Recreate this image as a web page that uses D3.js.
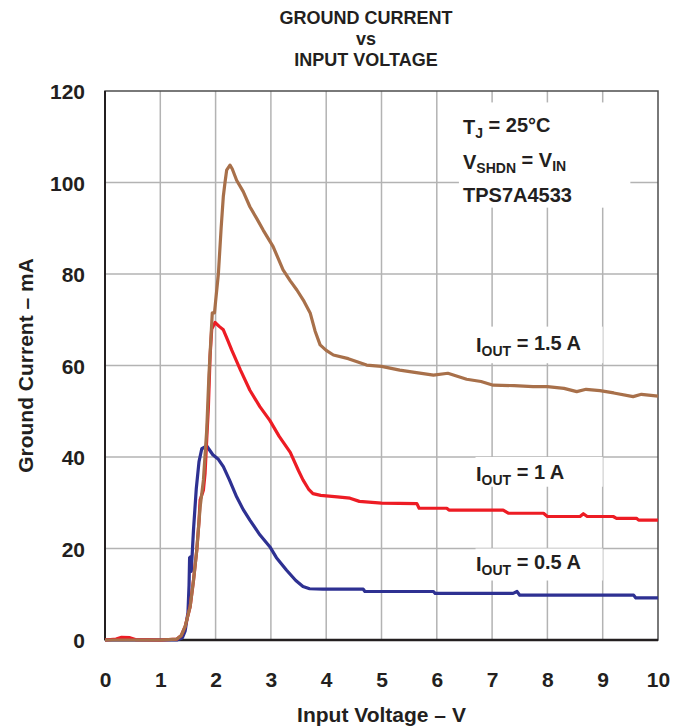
<!DOCTYPE html>
<html>
<head>
<meta charset="utf-8">
<script src="https://cdn.jsdelivr.net/npm/d3@7"></script>
<style>
	body { margin: 0; background: #fff; }
	text { font-family: "Liberation Sans Narrow", "Liberation Sans", Arial, sans-serif; font-weight: bold; fill: #231f20; }
</style>
</head>
<body>
<svg id="chart" width="689" height="726"></svg>
<script>
// tick values
const xTicks = [0, 1, 2, 3, 4, 5, 6, 7, 8, 9, 10];
const yTicks = [0, 20, 40, 60, 80, 100, 120];

// series: [input voltage V, ground current mA]
const iout05 = [[0,0],[0.5,0],[1,0],[1.3,0],[1.4,0.5],[1.45,2],[1.5,6],[1.52,12],[1.53,18],[1.55,18.2],[1.56,15],[1.6,24],[1.65,33],[1.7,39],[1.75,41.8],[1.84,42.4],[1.95,40.5],[2.05,39.5],[2.14,37.9],[2.25,35],[2.38,31.3],[2.5,28.5],[2.62,26.2],[2.8,23],[2.98,20.4],[3.1,18],[3.28,15.3],[3.45,13],[3.58,11.7],[3.7,11.2],[3.94,11.1],[4.3,11.1],[4.67,11.1],[4.7,10.6],[5.2,10.6],[5.94,10.6],[5.97,10.2],[6.6,10.2],[7.38,10.2],[7.45,10.6],[7.5,9.8],[8,9.8],[8.8,9.8],[9.56,9.8],[9.6,9.2],[10,9.2]];
const iout1 = [[0,0],[0.2,0.2],[0.3,0.6],[0.45,0.5],[0.55,0.1],[1,0],[1.3,0.2],[1.38,1],[1.45,3],[1.54,7.3],[1.6,13],[1.66,19.7],[1.7,26],[1.72,30.6],[1.76,32],[1.78,32.8],[1.81,36.5],[1.84,44],[1.87,51],[1.9,62],[1.93,68],[1.99,69.4],[2.07,68.5],[2.14,67.8],[2.22,65.5],[2.29,63.4],[2.45,59],[2.62,54.6],[2.8,51],[2.98,48],[3.15,44.5],[3.35,41],[3.5,37],[3.58,35],[3.68,33],[3.76,32],[3.9,31.6],[4.2,31.3],[4.43,31],[4.6,30.3],[5,29.9],[5.64,29.8],[5.68,28.8],[6.18,28.8],[6.22,28.4],[7.2,28.4],[7.3,27.7],[7.93,27.7],[8,27],[8.59,27],[8.65,27.6],[8.72,27],[9.19,27],[9.25,26.6],[9.61,26.6],[9.65,26.2],[10,26.2]];
const iout15 = [[0,0],[0.5,0],[1,0],[1.3,0.2],[1.38,1],[1.45,3],[1.54,7.3],[1.6,13],[1.66,19.7],[1.72,29],[1.78,35],[1.84,46],[1.88,58],[1.92,67],[1.94,71.5],[1.98,71.5],[2.0,74],[2.05,80],[2.1,90],[2.14,97],[2.17,100],[2.2,102.7],[2.26,103.8],[2.3,103],[2.38,100.5],[2.5,98],[2.62,94.7],[2.75,92],[2.86,89.6],[3.04,86],[3.22,80.9],[3.35,78.5],[3.47,76.5],[3.6,74],[3.71,71.5],[3.8,67.5],[3.89,64.5],[4.0,63.3],[4.13,62.3],[4.4,61.5],[4.73,60.1],[5.0,59.8],[5.33,59],[5.6,58.5],[5.94,57.9],[6.2,58.3],[6.54,57],[6.8,56.5],[7.02,55.7],[7.4,55.6],[7.74,55.4],[8.0,55.4],[8.3,55],[8.53,54.3],[8.7,54.8],[8.95,54.5],[9.2,54],[9.55,53.2],[9.7,53.7],[10,53.3]];

const seriesList = [
	{ data: iout05, color: "#2e3192" },
	{ data: iout1, color: "#ed1c24" },
	{ data: iout15, color: "#a8704a" }
];

const W = 689, H = 726;
const m = { top: 91, right: 31, bottom: 86, left: 105 };
const iw = W - m.left - m.right;
const ih = H - m.top - m.bottom;

const svg = d3.select("#chart");
const g = svg.append("g").attr("transform", `translate(${m.left}, ${m.top})`);

const x = d3.scaleLinear().domain([0, 10]).range([0, iw]);
const y = d3.scaleLinear().domain([0, 120]).range([ih, 0]);

// grid
g.append("g").selectAll("line").data(xTicks.slice(1, -1)).join("line")
	.attr("x1", d => x(d)).attr("x2", d => x(d)).attr("y1", 0).attr("y2", ih)
	.attr("stroke", "#b3b3b3").attr("stroke-width", 1.5);
g.append("g").selectAll("line").data(yTicks.slice(1, -1)).join("line")
	.attr("x1", 0).attr("x2", iw).attr("y1", d => y(d)).attr("y2", d => y(d))
	.attr("stroke", "#b3b3b3").attr("stroke-width", 1.5);

// white boxes behind the notes
const boxes = [
	{ x0: 6.4, x1: 9.5, y0: 117.5, y1: 94.5 },
	{ x0: 6.7, x1: 9.0, y0: 68.5, y1: 60.5 },
	{ x0: 6.7, x1: 9.0, y0: 40.0, y1: 33.5 },
	{ x0: 6.7, x1: 9.0, y0: 20.0, y1: 13.0 }
];
g.append("g").selectAll("rect").data(boxes).join("rect")
	.attr("x", d => x(d.x0)).attr("y", d => y(d.y0))
	.attr("width", d => x(d.x1) - x(d.x0)).attr("height", d => y(d.y1) - y(d.y0))
	.attr("fill", "#fff");

// frame
g.append("rect").attr("width", iw).attr("height", ih)
	.attr("fill", "none").attr("stroke", "#4d4d4d").attr("stroke-width", 1.5);
g.append("line").attr("x1", 0).attr("x2", 0).attr("y1", 0).attr("y2", ih)
	.attr("stroke", "#231f20").attr("stroke-width", 2);
g.append("line").attr("x1", 0).attr("x2", iw).attr("y1", ih).attr("y2", ih)
	.attr("stroke", "#231f20").attr("stroke-width", 2.5);

// curves
const line = d3.line().x(d => x(d[0])).y(d => y(d[1]));
g.append("g").selectAll("path").data(seriesList).join("path")
	.attr("d", d => line(d.data))
	.attr("fill", "none")
	.attr("stroke", d => d.color)
	.attr("stroke-width", 3.2)
	.attr("stroke-linejoin", "round");

// axes
const xAxis = g.append("g").attr("transform", `translate(0, ${ih})`)
	.call(d3.axisBottom(x).tickValues(xTicks).tickSize(0).tickPadding(32).tickFormat(d3.format("d")));
const yAxis = g.append("g")
	.call(d3.axisLeft(y).tickValues(yTicks).tickSize(0).tickPadding(20));
[xAxis, yAxis].forEach(a => {
	a.select(".domain").remove();
	a.selectAll("text").attr("font-size", "21px").attr("fill", "#231f20")
		.attr("font-family", null);
});
yAxis.selectAll("text").attr("dy", "0.36em");

// axis titles
svg.append("text").attr("x", m.left + iw / 2).attr("y", 722)
	.attr("text-anchor", "middle").attr("font-size", "21px").text("Input Voltage – V");
svg.append("text").attr("transform", `translate(33, ${m.top + ih / 2}) rotate(-90)`)
	.attr("text-anchor", "middle").attr("font-size", "21px").text("Ground Current – mA");

// title
const titleLines = ["GROUND CURRENT", "vs", "INPUT VOLTAGE"];
svg.append("g").selectAll("text").data(titleLines).join("text")
	.attr("x", 366).attr("y", (d, i) => 24 + i * 21)
	.attr("text-anchor", "middle").attr("font-size", "18px").text(d => d);

// notes
function note(px, py, parts, size) {
	const t = svg.append("text").attr("x", px).attr("y", py).attr("font-size", size + "px");
	parts.forEach(p => {
		const s = t.append("tspan").text(p[0]);
		if (p[1] === "sub") s.attr("font-size", (size * 0.7) + "px").attr("dy", "0.3em");
		if (p[1] === "up") s.attr("dy", "-0.3em");
	});
}
note(463, 134, [["T"], ["J", "sub"], [" = 25°C", "up"]], 20);
note(463, 169, [["V"], ["SHDN", "sub"], [" = V", "up"], ["IN", "sub"]], 20);
note(463, 202, [["TPS7A4533"]], 20);
note(476, 352, [["I"], ["OUT", "sub"], [" = 1.5 A", "up"]], 20);
note(476, 481, [["I"], ["OUT", "sub"], [" = 1 A", "up"]], 20);
note(476, 571, [["I"], ["OUT", "sub"], [" = 0.5 A", "up"]], 20);
</script>
</body>
</html>
